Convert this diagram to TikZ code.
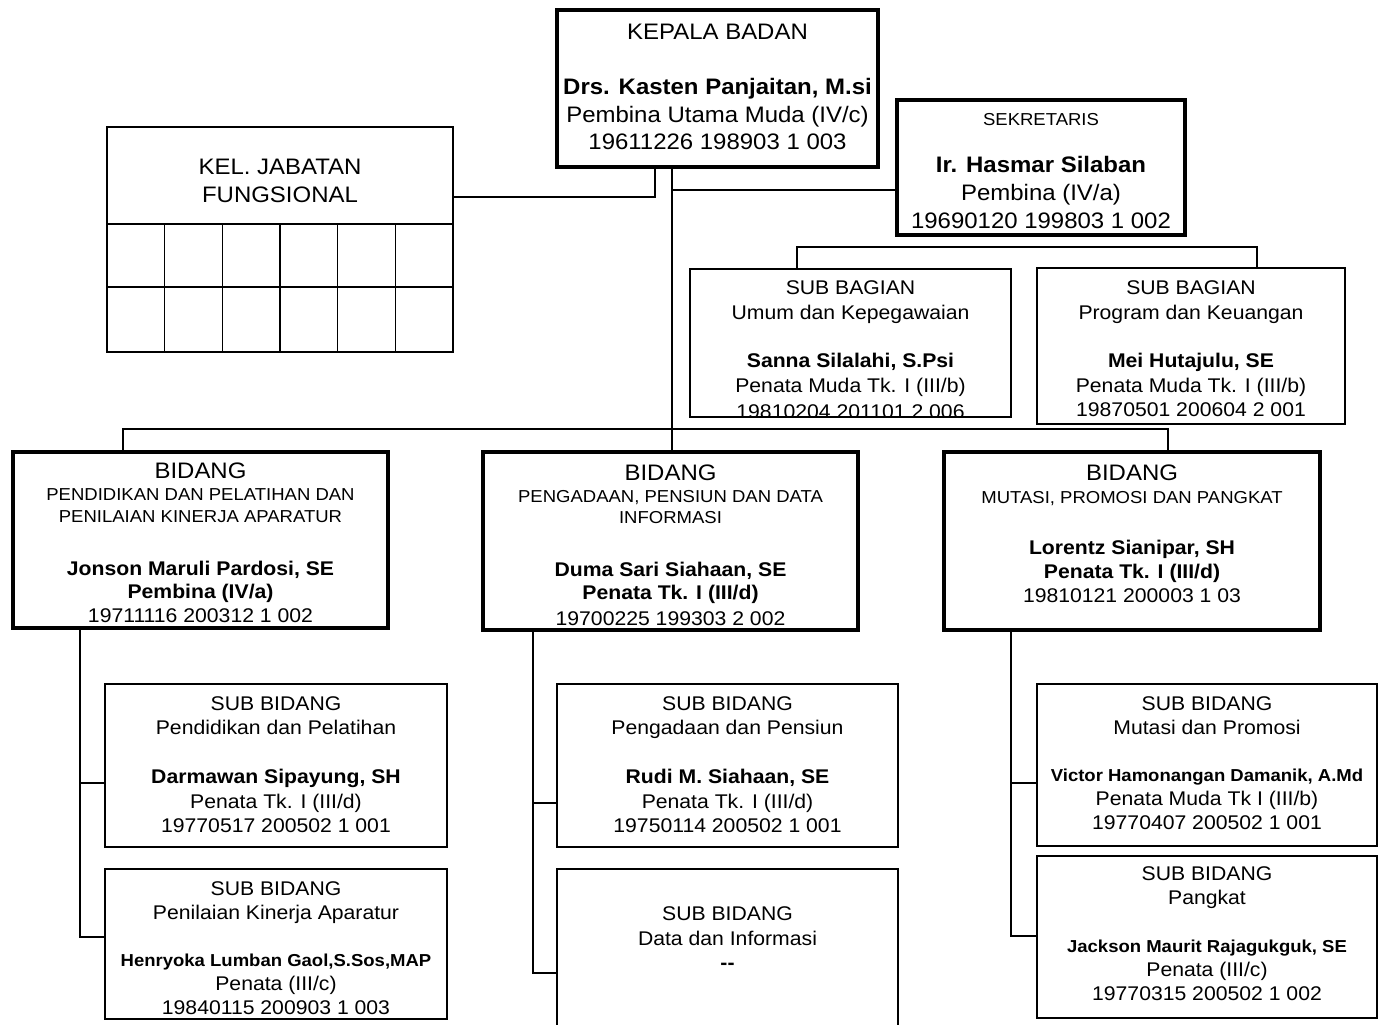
\documentclass[tikz,border=0pt]{standalone}
\usepackage{fontspec}
\setmainfont[FakeStretch=1.07]{Liberation Sans}
\usetikzlibrary{fit}
\newcommand\szA{\fontsize{22.4}{26}\selectfont}
\newcommand\szB{\fontsize{19.8}{24}\selectfont}
\newcommand\szC{\fontsize{17.3}{20}\selectfont}
\tikzset{
  thickbox/.style={draw, line width=3.6pt, inner sep=0pt, outer sep=0pt},
  thinbox/.style={draw, line width=1.6pt, inner sep=0pt, outer sep=0pt},
  conn/.style={draw, line width=1.6pt},
  gridline/.style={draw, line width=1.6pt},
  txt/.style={anchor=base, inner sep=0pt, outer sep=0pt},
}
\begin{document}
\begin{tikzpicture}[x=1pt,y=-1pt]
\useasboundingbox (0,0) rectangle (1384,1025);

% ---------- boxes ----------
\node[thickbox, fit={(557,10) (878,167)}] (kep) {};
\node[thickbox, fit={(897,100) (1185,235)}] (sek) {};
\node[thinbox, fit={(107,127) (453,352)}] (kel) {};
\node[thinbox, fit={(690,269) (1011,417)}] (sbg1) {};
\node[thinbox, fit={(1037,268) (1345,424)}] (sbg2) {};
\node[thickbox, fit={(13,452) (388,628)}] (bid1) {};
\node[thickbox, fit={(483,452) (858,630)}] (bid2) {};
\node[thickbox, fit={(944,452) (1320,630)}] (bid3) {};
\node[thinbox, fit={(105,684) (447,847)}] (sb1a) {};
\node[thinbox, fit={(105,869) (447,1019)}] (sb1b) {};
\node[thinbox, fit={(557,684) (898,847)}] (sb2a) {};
\node[thinbox, fit={(557,869) (898,1045)}] (sb2b) {};
\node[thinbox, fit={(1037,684) (1377,846)}] (sb3a) {};
\node[thinbox, fit={(1037,856) (1377,1018)}] (sb3b) {};

% grid of KEL box
\draw[gridline] (kel.west |- 0,224) -- (kel.east |- 0,224);
\draw[gridline] (kel.west |- 0,287) -- (kel.east |- 0,287);
\foreach \xx in {164.67,222.33,280,337.67,395.33}
  \draw[gridline] (\xx,224) -- (\xx,352);

% ---------- connectors ----------
\coordinate (j1) at (655,197);
\draw[conn] (kep.south -| j1) |- (kel.east |- j1);
\coordinate (sp) at (672,429);
\coordinate (s1) at (672,190);
\draw[conn] (kep.south -| sp) -- (sp);
\draw[conn] (s1) -- (sek.west |- s1);
\coordinate (sbl) at (797,247);
\coordinate (sbr) at (1257,247);
\draw[conn] (sbg1.north -| sbl) -- (sbl) -- (sbr) -- (sbg2.north -| sbr);
\coordinate (bl) at (123,429);
\coordinate (br) at (1168,429);
\draw[conn] (bid1.north -| bl) -- (bl) -- (br) -- (bid3.north -| br);
\draw[conn] (sp) -- (bid2.north -| sp);

\coordinate (t1a) at (80,783);
\coordinate (t1b) at (80,937);
\draw[conn] (bid1.south -| t1b) -- (t1b) -- (sb1b.west |- t1b);
\draw[conn] (t1a) -- (sb1a.west |- t1a);
\coordinate (t2a) at (533,803);
\coordinate (t2b) at (533,973);
\draw[conn] (bid2.south -| t2b) -- (t2b) -- (sb2b.west |- t2b);
\draw[conn] (t2a) -- (sb2a.west |- t2a);
\coordinate (t3a) at (1011,783);
\coordinate (t3b) at (1011,936);
\draw[conn] (bid3.south -| t3b) -- (t3b) -- (sb3b.west |- t3b);
\draw[conn] (t3a) -- (sb3a.west |- t3a);

% ---------- texts ----------
% Kepala Badan
\node[txt, font=\szA] (k1) at (717.5,40) {KEPALA BADAN};
\node[txt, font=\szA\bfseries] (k2) at (717.5,94.5) {Drs. Kasten Panjaitan, M.si};
\node[txt, font=\szA] (k3) at (717.5,122) {Pembina Utama Muda (IV/c)};
\node[txt, font=\szA] (k4) at (717.5,149.5) {19611226 198903 1 003};
% Sekretaris
\node[txt, font=\szC] (s1t) at (1041,125) {SEKRETARIS};
\node[txt, font=\szA\bfseries] (s2t) at (1041,172) {Ir. Hasmar Silaban};
\node[txt, font=\szA] (s3t) at (1041,200) {Pembina (IV/a)};
\node[txt, font=\szA] (s4t) at (1041,228) {19690120 199803 1 002};
% Kel. jabatan fungsional
\node[txt, font=\szA] (f1) at (280,174) {KEL. JABATAN};
\node[txt, font=\szA] (f2) at (280,202) {FUNGSIONAL};
% Sub bagian 1
\node[txt, font=\szB] (a1) at (850.5,294) {SUB BAGIAN};
\node[txt, font=\szB] (a2) at (850.5,319) {Umum dan Kepegawaian};
\node[txt, font=\szB\bfseries] (a3) at (850.5,367) {Sanna Silalahi, S.Psi};
\node[txt, font=\szB] (a4) at (850.5,392) {Penata Muda Tk. I (III/b)};
\begin{scope}
  \clip (690,269) rectangle (1011,415.5);
  \node[txt, font=\szB] (a5) at (850.5,418.5) {19810204 201101 2 006};
\end{scope}
% Sub bagian 2
\node[txt, font=\szB] (b1) at (1191,294) {SUB BAGIAN};
\node[txt, font=\szB] (b2) at (1191,319) {Program dan Keuangan};
\node[txt, font=\szB\bfseries] (b3) at (1191,367) {Mei Hutajulu, SE};
\node[txt, font=\szB] (b4) at (1191,392) {Penata Muda Tk. I (III/b)};
\node[txt, font=\szB] (b5) at (1191,416.5) {19870501 200604 2 001};
% Bidang 1
\node[txt, font=\szA] (c1) at (200.5,478) {BIDANG};
\node[txt, font=\szC] (c2) at (200.5,500.5) {PENDIDIKAN DAN PELATIHAN DAN};
\node[txt, font=\szC] (c3) at (200.5,522.5) {PENILAIAN KINERJA APARATUR};
\node[txt, font=\szB\bfseries] (c4) at (200.5,575) {Jonson Maruli Pardosi, SE};
\node[txt, font=\szB\bfseries] (c5) at (200.5,598.5) {Pembina (IV/a)};
\node[txt, font=\szB] (c6) at (200.5,622) {19711116 200312 1 002};
% Bidang 2
\node[txt, font=\szA] (d1) at (670.5,480) {BIDANG};
\node[txt, font=\szC] (d2) at (670.5,502.5) {PENGADAAN, PENSIUN DAN DATA};
\node[txt, font=\szC] (d3) at (670.5,523.5) {INFORMASI};
\node[txt, font=\szB\bfseries] (d4) at (670.5,576) {Duma Sari Siahaan, SE};
\node[txt, font=\szB\bfseries] (d5) at (670.5,599.5) {Penata Tk. I (III/d)};
\begin{scope}
  \clip (483,452) rectangle (858,627.5);
  \node[txt, font=\szB] (d6) at (670.5,625.5) {19700225 199303 2 002};
\end{scope}
% Bidang 3
\node[txt, font=\szA] (e1) at (1132,480) {BIDANG};
\node[txt, font=\szC] (e2) at (1132,503) {MUTASI, PROMOSI DAN PANGKAT};
\node[txt, font=\szB\bfseries] (e3) at (1132,554) {Lorentz Sianipar, SH};
\node[txt, font=\szB\bfseries] (e4) at (1132,578) {Penata Tk. I (III/d)};
\node[txt, font=\szB] (e5) at (1132,602) {19810121 200003 1 03};
% Sub bidang 1a
\node[txt, font=\szB] (g1) at (276,710) {SUB BIDANG};
\node[txt, font=\szB] (g2) at (276,734) {Pendidikan dan Pelatihan};
\node[txt, font=\szB\bfseries] (g3) at (276,783) {Darmawan Sipayung, SH};
\node[txt, font=\szB] (g4) at (276,808) {Penata Tk. I (III/d)};
\node[txt, font=\szB] (g5) at (276,832) {19770517 200502 1 001};
% Sub bidang 1b
\node[txt, font=\szB] (h1) at (276,895) {SUB BIDANG};
\node[txt, font=\szB] (h2) at (276,919) {Penilaian Kinerja Aparatur};
\node[txt, font=\szC\bfseries] (h3) at (276,966) {Henryoka Lumban Gaol,S.Sos,MAP};
\node[txt, font=\szB] (h4) at (276,990) {Penata (III/c)};
\node[txt, font=\szB] (h5) at (276,1014) {19840115 200903 1 003};
% Sub bidang 2a
\node[txt, font=\szB] (m1) at (727.5,710) {SUB BIDANG};
\node[txt, font=\szB] (m2) at (727.5,734) {Pengadaan dan Pensiun};
\node[txt, font=\szB\bfseries] (m3) at (727.5,783) {Rudi M. Siahaan, SE};
\node[txt, font=\szB] (m4) at (727.5,808) {Penata Tk. I (III/d)};
\node[txt, font=\szB] (m5) at (727.5,832) {19750114 200502 1 001};
% Sub bidang 2b
\node[txt, font=\szB] (n1) at (727.5,920) {SUB BIDANG};
\node[txt, font=\szB] (n2) at (727.5,945) {Data dan Informasi};
\node[txt, font=\szB\bfseries] (n3) at (727.5,969) {-{}-};
% Sub bidang 3a
\node[txt, font=\szB] (p1) at (1207,710) {SUB BIDANG};
\node[txt, font=\szB] (p2) at (1207,734) {Mutasi dan Promosi};
\node[txt, font=\szC\bfseries] (p3) at (1207,781) {Victor Hamonangan Damanik, A.Md};
\node[txt, font=\szB] (p4) at (1207,805) {Penata Muda Tk I (III/b)};
\node[txt, font=\szB] (p5) at (1207,829) {19770407 200502 1 001};
% Sub bidang 3b
\node[txt, font=\szB] (q1) at (1207,880) {SUB BIDANG};
\node[txt, font=\szB] (q2) at (1207,904) {Pangkat};
\node[txt, font=\szC\bfseries] (q3) at (1207,952) {Jackson Maurit Rajagukguk, SE};
\node[txt, font=\szB] (q4) at (1207,976) {Penata (III/c)};
\node[txt, font=\szB] (q5) at (1207,1000) {19770315 200502 1 002};
\end{tikzpicture}
\end{document}
